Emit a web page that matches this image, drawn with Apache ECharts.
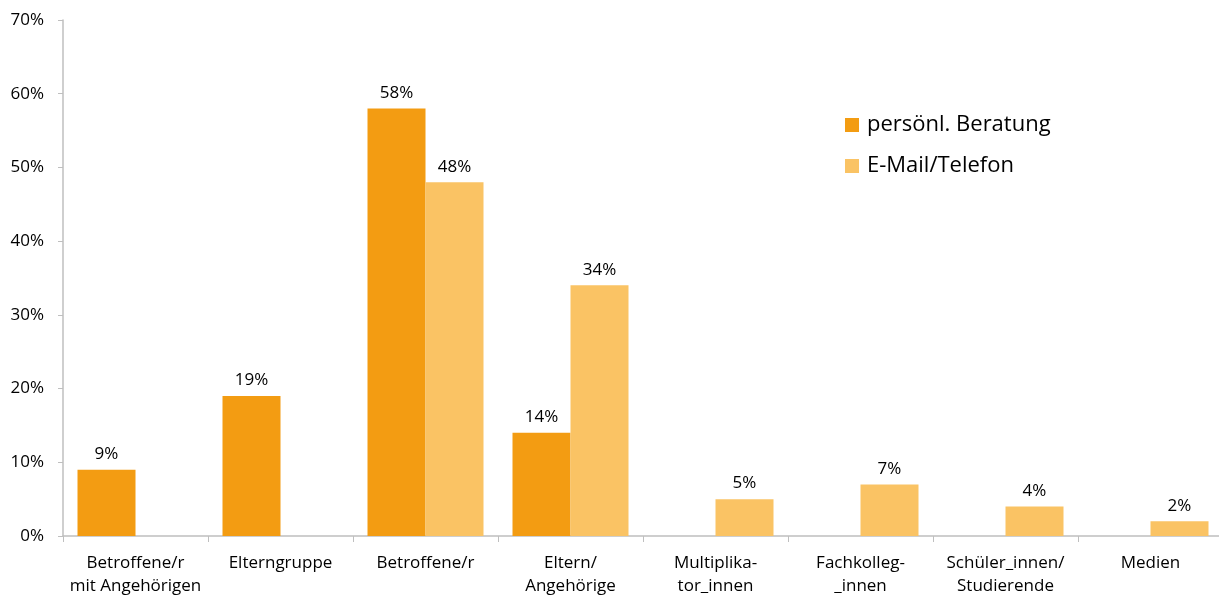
<!doctype html>
<html>
    <head>
        <meta charset="utf-8">
        <title>Beratung</title>
        <style>
            html, body { margin: 0; padding: 0; background: #fff; }
            #main { width: 1219px; height: 597px; }
        </style>
    </head>
    <body>
        <div id="main"></div>
        <script src="https://cdn.jsdelivr.net/npm/echarts@6/dist/echarts.min.js"></script>
        <script>
            var categories = [
                'Betroffene/r\nmit Angehörigen', 'Elterngruppe', 'Betroffene/r', 'Eltern/\nAngehörige',
                'Multiplika-\ntor_innen', 'Fachkolleg-\n_innen', 'Schüler_innen/\nStudierende', 'Medien'
            ];
            var persoenlich = [9, 19, 58, 14, null, null, null, null];
            var emailTelefon = [null, null, 48, 34, 5, 7, 4, 2];

            var chart = echarts.init(document.getElementById('main'), null, {
                devicePixelRatio: 1
            });

            var font = '"Open Sans", "Noto Sans", sans-serif';
            var label = {
                show: true,
                position: 'top',
                distance: 7,
                formatter: '{c}%',
                color: '#000',
                fontFamily: font,
                fontSize: 17
            };

            chart.setOption({
                animation: false,
                textStyle: { fontFamily: font },
                grid: {
                    left: 63,
                    top: 20,
                    width: 1160,
                    bottom: 61,
                    outerBoundsMode: 'none',
                    containLabel: false
                },
                legend: {
                    orient: 'vertical',
                    left: 840,
                    top: 109,
                    itemWidth: 14,
                    itemHeight: 14,
                    itemGap: 19,
                    itemStyle: { borderWidth: 0 },
                    icon: 'rect',
                    textStyle: { fontSize: 22, color: '#000', fontFamily: font, padding: [0, 0, 0, 3] }
                },
                xAxis: {
                    type: 'category',
                    data: categories,
                    axisLine: { lineStyle: { color: '#BFBFBF', width: 1.5 } },
                    axisTick: { show: true, length: 6, lineStyle: { color: '#BFBFBF' } },
                    axisLabel: { color: '#000', fontSize: 17, margin: 16, lineHeight: 23, interval: 0 }
                },
                yAxis: {
                    type: 'value',
                    min: 0,
                    max: 70,
                    interval: 10,
                    axisLine: { show: true, lineStyle: { color: '#BFBFBF', width: 1.5 } },
                    axisTick: { show: true, length: 5, lineStyle: { color: '#BFBFBF' } },
                    splitLine: { show: false },
                    axisLabel: { color: '#000', fontSize: 17, margin: 19, formatter: '{value}%' }
                },
                series: [{
                    name: 'persönl. Beratung',
                    type: 'bar',
                    data: persoenlich,
                    barGap: '0%',
                    barCategoryGap: '20%',
                    itemStyle: { color: '#F39C12' },
                    label: label
                }, {
                    name: 'E-Mail/Telefon',
                    type: 'bar',
                    data: emailTelefon,
                    barGap: '0%',
                    barCategoryGap: '20%',
                    itemStyle: { color: '#FAC364' },
                    label: label
                }]
            });

            window.onresize = chart.resize;
        </script>
    </body>
</html>
